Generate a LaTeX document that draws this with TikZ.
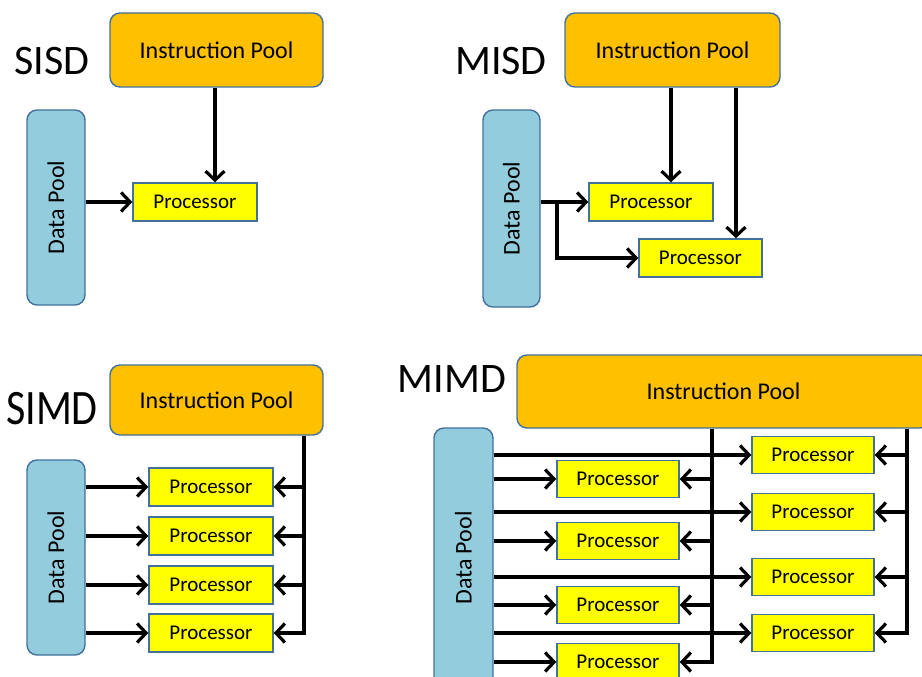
\documentclass[tikz,border=0pt]{standalone}
\usepackage{fontspec}
\setmainfont{Carlito}
\usetikzlibrary{positioning,arrows.meta,calc}
\definecolor{amber}{HTML}{FFC000}
\definecolor{skyblue}{HTML}{93CDDD}
\definecolor{lemon}{HTML}{FFFF00}
\definecolor{steel}{HTML}{41719C}

\begin{document}
\begin{tikzpicture}[x=1pt,y=-1pt,
    ipool/.style={draw=steel,fill=amber,line width=1.4pt,rounded corners=10pt,font=\fontsize{24}{27}\selectfont},
    dpool/.style={draw=steel,fill=skyblue,line width=1.4pt,rounded corners=10pt},
    proc/.style={draw=steel,fill=lemon,line width=1.4pt,minimum width=124pt,minimum height=38pt,inner sep=0pt,font=\fontsize{21}{23}\selectfont},
    dptext/.style={rotate=90,font=\fontsize{24}{27}\selectfont},
    kind/.style={font=\fontsize{42}{46}\selectfont},
    flow/.style={line width=3.2pt,-{Straight Barb[length=9pt,width=19pt]}}]
        \useasboundingbox (0,0) rectangle (922,677);
        \clip (0,0) rectangle (922,677);
        % SISD
        \node[kind] (sisdLbl) at (52,61) {SISD};
        \node[ipool,minimum width=213pt,minimum height=74pt] (sisdIP) at (216.5,50) {Instruction Pool};
        \node[dpool,minimum width=58pt,minimum height=195pt] (sisdDP) at (56,207.5) {};
        \node[dptext] (sisdDPt) at (sisdDP) {Data Pool};
        \node[proc] (sisdP) at (195,202) {Processor};
        \coordinate (sisdTap) at (215,0);
        \draw[flow] (sisdIP.south -| sisdTap) -- (sisdP.north -| sisdTap);
        \draw[flow] (sisdDP.east |- sisdP.west) -- (sisdP.west);
        % MISD
        \node[kind] (misdLbl) at (501,61) {MISD};
        \node[ipool,minimum width=215pt,minimum height=74pt] (misdIP) at (672.5,50) {Instruction Pool};
        \node[dpool,minimum width=57pt,minimum height=197pt] (misdDP) at (511.5,208.5) {};
        \node[dptext] (misdDPt) at (misdDP) {Data Pool};
        \node[proc] (misdP1) at (651,202) {Processor};
        \node[proc,minimum width=123pt] (misdP2) at (700.5,258) {Processor};
        \coordinate (misdTapA) at (671,0);
        \coordinate (misdTapB) at (736,0);
        \coordinate (misdFork) at (557,202);
        \draw[flow] (misdIP.south -| misdTapA) -- (misdP1.north -| misdTapA);
        \draw[flow] (misdIP.south -| misdTapB) -- (misdP2.north -| misdTapB);
        \draw[flow] (misdDP.east |- misdP1.west) -- (misdP1.west);
        \draw[flow] (misdFork) |- (misdP2.west);
        % SIMD
        \node[kind] (simdLbl) at (52,409) {\scalebox{1}[1.18]{SIMD}};
        \node[ipool,minimum width=213pt,minimum height=70pt] (simdIP) at (216.5,400) {Instruction Pool};
        \node[dpool,minimum width=58pt,minimum height=195pt] (simdDP) at (56,557.5) {};
        \node[dptext] (simdDPt) at (simdDP) {Data Pool};
        \foreach \y [count=\i] in {487,536,585,633} {
          \node[proc] (simdP\i) at (211,\y) {Processor};
          \draw[flow] (simdDP.east |- simdP\i.west) -- (simdP\i.west);
        }
        \coordinate (simdBus) at (304,0);
        \draw[flow] (simdIP.south -| simdBus) |- (simdP4.east);
        \foreach \i in {1,2,3} {
          \draw[flow] (simdP\i.east -| simdBus) -- (simdP\i.east);
        }
        % MIMD
        \node[kind] (mimdLbl) at (452,379) {MIMD};
        \node[ipool,minimum width=413pt,minimum height=73pt] (mimdIP) at (723.5,391.5) {Instruction Pool};
        \node[dpool,minimum width=59pt,minimum height=262pt] (mimdDP) at (463.5,559) {};
        \node[dptext] (mimdDPt) at (463.5,558) {Data Pool};
        \coordinate (mimdBusL) at (712,0);
        \coordinate (mimdBusR) at (907,0);
        \foreach \y [count=\i] in {479,541,605,662} {
          \node[proc,minimum width=122pt,minimum height=37pt] (mimdL\i) at (618,\y) {Processor};
          \draw[flow] (mimdDP.east |- mimdL\i.west) -- (mimdL\i.west);
        }
        \foreach \y [count=\i] in {455,512,577,633} {
          \node[proc,minimum width=122pt,minimum height=37pt] (mimdR\i) at (813,\y) {Processor};
          \draw[flow] (mimdDP.east |- mimdR\i.west) -- (mimdR\i.west);
        }
        \draw[flow] (mimdIP.south -| mimdBusL) |- (mimdL4.east);
        \draw[flow] (mimdIP.south -| mimdBusR) |- (mimdR4.east);
        \foreach \i in {1,2,3} {
          \draw[flow] (mimdL\i.east -| mimdBusL) -- (mimdL\i.east);
          \draw[flow] (mimdR\i.east -| mimdBusR) -- (mimdR\i.east);
        }
      \end{tikzpicture}
\end{document}
